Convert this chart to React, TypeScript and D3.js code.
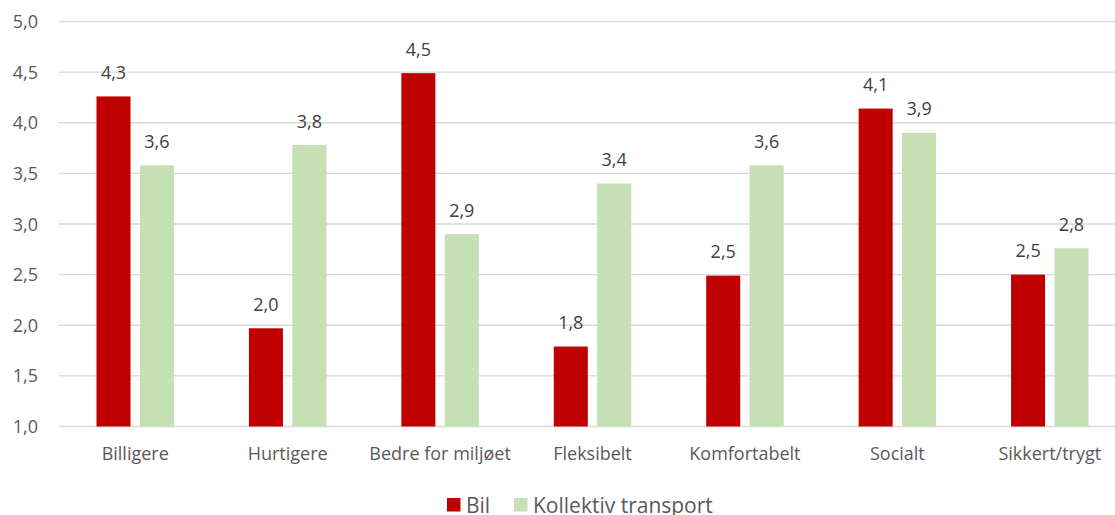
import React, { useRef, useEffect } from 'react';
import * as d3 from 'd3';

const categories = ['Billigere', 'Hurtigere', 'Bedre for miljøet', 'Fleksibelt', 'Komfortabelt', 'Socialt', 'Sikkert/trygt'];
const seriesNames = ['Bil', 'Kollektiv transport'];
const bilValues = [4.26, 1.97, 4.49, 1.79, 2.49, 4.14, 2.5];
const kollektivValues = [3.58, 3.78, 2.9, 3.4, 3.58, 3.9, 2.76];
const yTicks = [1.0, 1.5, 2.0, 2.5, 3.0, 3.5, 4.0, 4.5, 5.0];
const colors = ['#C00000', '#C5E0B4'];

const fmt = (v: number) => d3.format('.1f')(v).replace('.', ',');

const App = () => {
    const svgRef = useRef<SVGSVGElement>(null);

    useEffect(() => {
        const W = 1115;
        const H = 515;
        const svg = d3.select(svgRef.current)
            .attr('width', W)
            .attr('height', H)
            .style('font-family', '"Open Sans", sans-serif');

        svg.selectAll('*').remove();

        // Scales
        const x = d3.scaleBand()
            .domain(categories)
            .range([59, 1126]);

        const inner = d3.scaleBand()
            .domain(seriesNames)
            .range([37.5, x.bandwidth() - 37.5])
            .paddingInner(0.217);

        const y = d3.scaleLinear()
            .domain([1, 5])
            .range([426.5, 21.5]);

        // Gridlines
        svg.append('g')
            .selectAll('line')
            .data(yTicks)
            .enter().append('line')
            .attr('x1', 59)
            .attr('x2', W)
            .attr('y1', d => y(d))
            .attr('y2', d => y(d))
            .attr('stroke', '#d9d9d9')
            .attr('stroke-width', 1.3);

        // Y tick labels
        svg.append('g')
            .selectAll('text')
            .data(yTicks)
            .enter().append('text')
            .attr('x', 38)
            .attr('y', d => y(d) + 6.5)
            .attr('text-anchor', 'end')
            .attr('font-size', 18)
            .attr('fill', '#595959')
            .text(d => fmt(d));

        const rows = categories.map((c, i) => ({ cat: c, vals: [bilValues[i], kollektivValues[i]] }));

        const groups = svg.append('g')
            .selectAll('g')
            .data(rows)
            .enter().append('g')
            .attr('transform', d => `translate(${x(d.cat)},0)`);

        groups.selectAll('rect')
            .data(d => d.vals.map((v, j) => ({ key: seriesNames[j], v, j })))
            .enter().append('rect')
            .attr('x', d => inner(d.key)!)
            .attr('width', inner.bandwidth())
            .attr('y', d => y(d.v))
            .attr('height', d => y(1) - y(d.v))
            .attr('fill', d => colors[d.j]);

        groups.selectAll('text.label')
            .data(d => d.vals.map((v, j) => ({ key: seriesNames[j], v, j })))
            .enter().append('text')
            .attr('class', 'label')
            .attr('x', d => inner(d.key)! + inner.bandwidth() / 2)
            .attr('y', d => y(d.v) - 17.5)
            .attr('text-anchor', 'middle')
            .attr('font-size', 18)
            .attr('fill', '#404040')
            .text(d => fmt(d.v));

        // X labels
        svg.append('g')
            .selectAll('text')
            .data(categories)
            .enter().append('text')
            .attr('x', d => x(d)! + x.bandwidth() / 2)
            .attr('y', 460)
            .attr('text-anchor', 'middle')
            .attr('font-size', 18)
            .attr('fill', '#595959')
            .text(d => d);

        // Legend
        const legendX = [447, 514];
        const legend = svg.append('g')
            .selectAll('g')
            .data(seriesNames)
            .enter().append('g')
            .attr('transform', (d, i) => `translate(${legendX[i]},498)`);

        legend.append('rect')
            .attr('width', 13.5)
            .attr('height', 13.5)
            .attr('fill', (d, i) => colors[i]);

        legend.append('text')
            .attr('x', 19)
            .attr('y', 14.5)
            .attr('font-size', 21)
            .attr('fill', '#595959')
            .text(d => d);
    }, []);

    return (
        <div>
            <svg ref={svgRef} style={{ position: 'absolute', left: 0, top: 0 }}></svg>
        </div>
    );
};

export default App;
